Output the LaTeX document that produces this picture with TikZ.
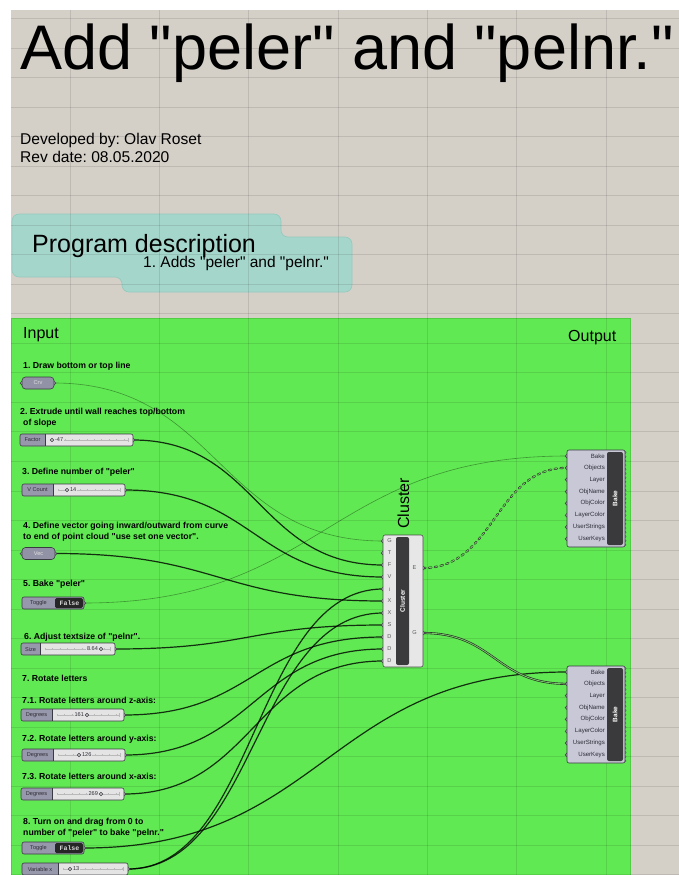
\documentclass[tikz,border=0pt]{standalone}
\usepackage{fontspec}
\setmainfont{Liberation Sans}[Ligatures=TeXOff]
\newfontfamily\ghmono{Liberation Mono}[Ligatures=TeXOff]
\pgfdeclarelayer{canvas}
\pgfdeclarelayer{wires}
\pgfsetlayers{canvas,wires,main}

\definecolor{canvasbg}{RGB}{212,208,200}
\definecolor{groupgreen}{RGB}{96,233,82}
\definecolor{groupedge}{RGB}{80,205,68}
\definecolor{descteal}{RGB}{165,214,203}
\definecolor{descedge}{RGB}{148,201,190}
\definecolor{paramfill}{RGB}{146,146,166}
\definecolor{labelfill}{RGB}{152,152,172}
\definecolor{sliderfill}{RGB}{228,228,228}
\definecolor{ghedge}{RGB}{58,58,66}
\definecolor{ghdark}{RGB}{45,45,55}
\definecolor{gripfill}{RGB}{175,175,185}
\definecolor{stripe}{RGB}{58,58,60}
\definecolor{bakefill}{RGB}{200,200,215}
\definecolor{clusterfill}{RGB}{231,231,231}
\definecolor{treemid}{RGB}{118,196,104}

\tikzset{
  lbl/.style={font=\fontsize{8.7}{10}\selectfont\bfseries, anchor=base west, inner sep=0pt},
  ghtxt/.style={font=\fontsize{5.6}{6}\selectfont, inner sep=0pt},
  baketxt/.style={font=\fontsize{6.1}{7}\selectfont, inner sep=0pt, text=ghdark, anchor=east},
  grip/.style={fill=gripfill, draw=ghedge, line width=0.5pt},
  ghbox/.style={inner sep=0pt, outer sep=0pt, rounded corners=2pt},
  gridline/.style={draw=black, draw opacity=0.1, line width=0.6pt},
  wire/.style={draw=black, draw opacity=0.8, line width=1.2pt},
  thinwire/.style={draw=black, draw opacity=0.35, line width=0.6pt},
  listwire/.style={draw=black!85, line width=0.55pt, double=treemid, double distance=1pt,
                   line cap=round, dash pattern=on 2.5pt off 3.4pt},
  treewire/.style={draw=black!85, line width=0.6pt, double=treemid, double distance=0.9pt},
}

% number slider: name, x1, x2, y, label end, label, knob x, value, value placement
\newcommand\ghSlider[9]{%
  \draw[grip] (#3,#4) circle (1.9pt);
  \node[ghbox, fill=sliderfill, minimum width={(#3-#2)*1pt}, minimum height=12pt] (#1) at ({(#2+#3)/2},#4) {};
  \begin{scope}
    \clip (#2,#4-6) rectangle (#5,#4+6);
    \fill[labelfill, rounded corners=2pt] (#2,#4-6) rectangle (#5+4,#4+6);
  \end{scope}
  \draw[ghedge, line width=0.5pt] (#5,#4-6) -- (#5,#4+6);
  \draw[ghedge, line width=0.6pt, rounded corners=2pt] (#2,#4-6) rectangle (#3,#4+6);
  \node[ghtxt, text=ghdark] at ({(#2+#5)/2},#4) {#6};
  \draw[gray!55, line width=0.35pt] (#5+5,#4) -- (#3-5,#4);
  \draw[gray!55, line width=2.4pt, dash pattern=on 0.35pt off 7pt] (#5+5,#4) -- (#3-5,#4);
  \draw[gray!55, line width=0.35pt] (#3-5,#4-2) -- (#3-5,#4+2);
  \node[ghtxt, text=ghdark, fill=sliderfill, inner sep=0.7pt, #9] at (#7,#4) {#8};
  \draw[ghedge, fill=white, line width=0.45pt] (#7,#4) circle (1.7pt);
  \fill[ghedge] (#7,#4) circle (0.55pt);
  \coordinate (#1-o) at (#3,#4);
}

% parameter capsule: name, x1, x2, y, text
\newcommand\ghParam[5]{%
  \draw[grip] (#2,#4) circle (1.9pt);
  \draw[grip] (#3,#4) circle (1.9pt);
  \node[ghbox, fill=paramfill, draw=ghedge, line width=0.6pt, rounded corners=3.5pt,
        minimum width={(#3-#2)*1pt}, minimum height=12pt, ghtxt, text=white!88!black]
        (#1) at ({(#2+#3)/2},#4) {#5};
  \coordinate (#1-i) at (#2,#4);
  \coordinate (#1-o) at (#3,#4);
}

% boolean toggle: name, x1, split x, x2, y
\newcommand\ghToggle[5]{%
  \draw[grip] (#4,#5) circle (1.9pt);
  \node[ghbox, fill=labelfill, draw=ghedge, line width=0.6pt, minimum width={(#4-#2)*1pt},
        minimum height=12pt] (#1) at ({(#2+#4)/2},#5) {};
  \fill[black!85, rounded corners=1.5pt] (#3,#5-5) rectangle (#4-1.2,#5+5);
  \node[ghtxt, text=ghdark] at ({(#2+#3)/2},#5) {Toggle};
  \node[inner sep=0pt, text=white!85!black, font=\ghmono\bfseries\fontsize{6.6}{7}\selectfont]
        at ({(#3+#4)/2},#5) {False};
  \coordinate (#1-o) at (#4,#5);
}

% bake component: name, top y
\newcommand\ghBake[2]{%
  \foreach \k in {1,...,8}{%
    \pgfmathsetmacro\yy{#2+6+11.85*(\k-1)}
    \draw[grip] (567,\yy) circle (1.9pt);
    \coordinate (#1-\k) at (567,\yy);
  }
  \foreach \j in {0,...,22}{\draw[ghedge, fill=gripfill, line width=0.3pt] (625,#2+2.5+\j*4.2) circle (1.1pt);}
  \node[ghbox, fill=bakefill, draw=ghedge, line width=0.6pt, minimum width=58pt, minimum height=97pt]
        (#1) at (596,#2+48.5) {};
  \fill[stripe, rounded corners=2pt] (607,#2+2) rectangle (623,#2+95);
  \node[rotate=90, text=white, font=\bfseries\fontsize{6.5}{7}\selectfont, inner sep=0pt]
        at (615,#2+48.5) {Bake};
  \foreach \L [count=\k] in {Bake,Objects,Layer,ObjName,ObjColor,LayerColor,UserStrings,UserKeys}{%
    \pgfmathsetmacro\yy{#2+6+11.85*(\k-1)}
    \node[baketxt] at (605,\yy) {\L};
  }
}

\begin{document}
\frenchspacing
\begin{tikzpicture}[x=1pt,y=-1pt]
\useasboundingbox (0,0) rectangle (679,875);

% ---------- canvas, groups and grid ----------
\begin{pgfonlayer}{canvas}
  \fill[white] (0,0) rectangle (679,875);
  \fill[canvasbg] (11,10) rectangle (679,875);
  \fill[groupgreen] (11.5,318) rectangle (630,875);
  \draw[groupedge, line width=0.6pt] (11.5,875) -- (11.5,318) -- (630,318) -- (630,875);
  \path[fill=descteal, draw=descedge, line width=0.6pt, rounded corners=7pt]
    (12,214) -- (281,214) -- (281,237) -- (352,237) -- (352,292) -- (122,292) -- (122,277) -- (12,277) -- cycle;
  \foreach \gx in {0,...,6} \draw[gridline] ({70+89.3*\gx},10) -- ({70+89.3*\gx},875);
  \foreach \gy in {0,...,29} \draw[gridline] (11,{18.5+29.52*\gy}) -- (679,{18.5+29.52*\gy});
\end{pgfonlayer}

% ---------- headings ----------
\node[anchor=base west, inner sep=0pt, font=\fontsize{63}{70}\selectfont] (title) at (20,70) {Add "peler" and "pelnr."};
\node[anchor=base west, inner sep=0pt, font=\fontsize{15.6}{18}\selectfont] (dev) at (20,144) {Developed by: Olav Roset};
\node[anchor=base west, inner sep=0pt, font=\fontsize{15.6}{18}\selectfont] (rev) at (20,162) {Rev date: 08.05.2020};
\node[anchor=base west, inner sep=0pt, font=\fontsize{25}{28}\selectfont] (progdesc) at (32,252) {Program description};
\node[anchor=base west, inner sep=0pt, font=\fontsize{15.5}{18}\selectfont] (progitem) at (143,267) {1. Adds "peler" and "pelnr."};
\node[anchor=base west, inner sep=0pt, font=\fontsize{16}{18}\selectfont] (input) at (23,338) {Input};
\node[anchor=base west, inner sep=0pt, font=\fontsize{16}{18}\selectfont] (output) at (568,341) {Output};

% ---------- step notes ----------
\node[lbl] (n1) at (23,368) {1. Draw bottom or top line};
\node[lbl] (n2a) at (20,414) {2. Extrude until wall reaches top/bottom};
\node[lbl] (n2b) at (23,425) {of slope};
\node[lbl] (n3) at (22,474) {3. Define number of "peler"};
\node[lbl] (n4a) at (23,528) {4. Define vector going inward/outward from curve};
\node[lbl] (n4b) at (23,539) {to end of point cloud "use set one vector".};
\node[lbl] (n5) at (23,586) {5. Bake "peler"};
\node[lbl] (n6) at (24,639) {6. Adjust textsize of "pelnr".};
\node[lbl] (n7) at (22,681) {7. Rotate letters};
\node[lbl] (n71) at (22,703) {7.1. Rotate letters around z-axis:};
\node[lbl] (n72) at (22,741) {7.2. Rotate letters around y-axis:};
\node[lbl] (n73) at (22,779) {7.3. Rotate letters around x-axis:};
\node[lbl] (n8a) at (23,824) {8. Turn on and drag from 0 to};
\node[lbl] (n8b) at (23,835) {number of "peler" to bake "pelnr."};

% ---------- input components ----------
\ghParam{crv}{22}{54}{383}{Crv}
\ghSlider{factor}{20}{133}{440}{45}{Factor}{52}{-47}{anchor=west, xshift=2.2pt}
\ghSlider{vcount}{22}{125}{490}{53}{V Count}{67}{14}{anchor=west, xshift=2.2pt}
\ghParam{vec}{22}{55}{553.5}{Vec}
\ghToggle{togA}{22}{55}{84}{603}
\ghSlider{size}{21}{115}{649}{40}{Size}{101}{8.64}{anchor=east, xshift=-2.2pt}
\ghSlider{degz}{21}{124}{715}{52}{Degrees}{87}{161}{anchor=east, xshift=-2.2pt}
\ghSlider{degy}{22}{125}{755}{53}{Degrees}{79}{126}{anchor=west, xshift=2.2pt}
\ghSlider{degx}{21}{124}{794}{52}{Degrees}{101}{269}{anchor=east, xshift=-2.2pt}
\ghToggle{togB}{22}{55}{84}{848}
\ghSlider{varx}{22}{128}{869}{58}{Variable x}{70}{13}{anchor=west, xshift=2.2pt}

% ---------- cluster ----------
\foreach \k in {1,...,11}{%
  \pgfmathsetmacro\yy{529+12*\k}
  \draw[grip] (383,\yy) circle (1.9pt);
  \coordinate (cl-\k) at (383,\yy);
}
\draw[grip] (423,568) circle (1.9pt);
\draw[grip] (423,633) circle (1.9pt);
\coordinate (cl-E) at (423,568);
\coordinate (cl-G) at (423,633);
\node[ghbox, fill=clusterfill, draw=gray!60!black, line width=0.6pt, minimum width=40pt, minimum height=132pt]
  (cluster) at (403,601) {};
\fill[stripe, rounded corners=2pt] (396,537) rectangle (409,665);
\node[rotate=90, text=white, font=\bfseries\fontsize{6.5}{7}\selectfont, inner sep=0pt] (clname) at (402.5,601) {Cluster};
\foreach \L [count=\k] in {G,T,F,V,i,X,X,S,D,D,D}{%
  \pgfmathsetmacro\yy{529+12*\k}
  \node[ghtxt, text=black!65] at (389.5,\yy) {\L};
}
\node[ghtxt, text=black!65] (clE) at (414.5,568) {E};
\node[ghtxt, text=black!65] (clG) at (414.5,633) {G};
\node[rotate=90, anchor=west, inner sep=0pt, font=\fontsize{16}{18}\selectfont] (cltitle) at (403.5,529) {Cluster};

% ---------- bake components ----------
\ghBake{bakeA}{450}
\ghBake{bakeB}{666}

% ---------- wires ----------
\begin{pgfonlayer}{wires}
  \draw[thinwire] (crv-o) .. controls +(165,0) and +(-165,0) .. (cl-1);
  \draw[wire] (factor-o) .. controls +(125,0) and +(-125,0) .. (cl-3);
  \draw[wire] (vcount-o) .. controls +(129,0) and +(-129,0) .. (cl-4);
  \draw[wire] (vec-o) .. controls +(164,0) and +(-164,0) .. (cl-6);
  \draw[thinwire] (togA-o) .. controls +(241,0) and +(-241,0) .. (bakeA-1);
  \draw[wire] (size-o) .. controls +(134,0) and +(-134,0) .. (cl-8);
  \draw[wire] (degz-o) .. controls +(130,0) and +(-130,0) .. (cl-9);
  \draw[wire] (degy-o) .. controls +(129,0) and +(-129,0) .. (cl-10);
  \draw[wire] (degx-o) .. controls +(130,0) and +(-130,0) .. (cl-11);
  \draw[wire] (togB-o) .. controls +(241,0) and +(-241,0) .. (bakeB-1);
  \draw[wire] (varx-o) .. controls +(128,0) and +(-128,0) .. (cl-5);
  \draw[wire] (varx-o) .. controls +(128,0) and +(-128,0) .. (cl-7);
  \draw[listwire] (cl-E) .. controls +(72,0) and +(-72,0) .. (bakeA-2);
  \draw[treewire] (cl-G) .. controls +(72,0) and +(-72,0) .. (bakeB-2);
\end{pgfonlayer}
\end{tikzpicture}
\end{document}
